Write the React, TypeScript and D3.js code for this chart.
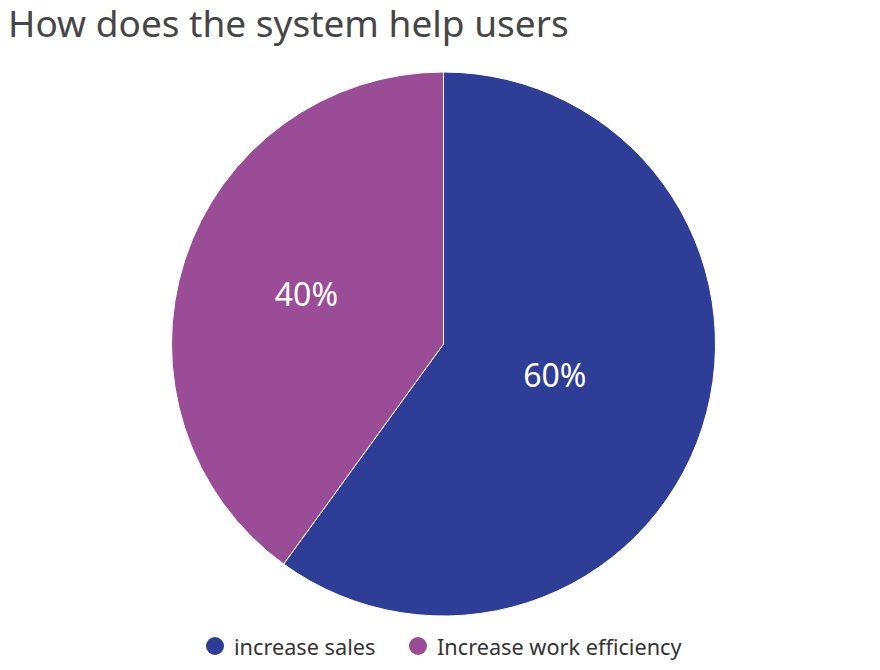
import React, { useRef, useEffect } from 'react';
import * as d3 from 'd3';

const categories = ['increase sales', 'Increase work efficiency'];
const shares = [60, 40];
const colors = ['#2e3d96', '#9a4c96'];
const title = 'How does the system help users';

const W = 880;
const H = 670;

const App = () => {
  const svgRef = useRef<SVGSVGElement>(null);

  useEffect(() => {
    const svg = d3.select(svgRef.current);
    svg.selectAll('*').remove();

    const cx = 443.5;
    const cy = 344;
    const r = 272;

    svg
      .append('text')
      .attr('x', 8)
      .attr('y', 37)
      .attr('font-family', '"Noto Sans", sans-serif')
      .attr('font-size', 37)
      .attr('fill', '#464646')
      .text(title);

    const data = categories.map((name, i) => ({ name, value: shares[i], color: colors[i] }));
    const total = d3.sum(shares);

    const pie = d3
      .pie<any>()
      .sort(null)
      .value(d => d.value);
    const arcs = pie(data);

    const arc = d3.arc<any>().innerRadius(0).outerRadius(r);

    const g = svg.append('g').attr('transform', `translate(${cx},${cy})`);

    g.selectAll('path.slice')
      .data(arcs)
      .join('path')
      .attr('class', 'slice')
      .attr('d', arc)
      .attr('fill', d => d.data.color)
      .attr('stroke', '#fff')
      .attr('stroke-width', 1);

    // labels sit further out on the smaller slice
    g.selectAll('text.lbl')
      .data(arcs)
      .join('text')
      .attr('class', 'lbl')
      .each(function (d) {
        const frac = d.data.value / total;
        const lr = r * (0.73 - 0.5 * frac);
        const a = (d.startAngle + d.endAngle) / 2;
        d3.select(this)
          .attr('x', Math.sin(a) * lr)
          .attr('y', -Math.cos(a) * lr - 6);
      })
      .attr('text-anchor', 'middle')
      .attr('dominant-baseline', 'central')
      .attr('font-family', '"Noto Sans", sans-serif')
      .attr('font-size', 32)
      .attr('fill', '#fff')
      .text(d => `${d.data.value}%`);

    // legend
    const legend = svg.append('g').attr('transform', `translate(0,646)`);
    const itemX = [215, 418];
    data.forEach((d, i) => {
      const item = legend.append('g').attr('transform', `translate(${itemX[i]},0)`);
      item.append('circle').attr('r', 9).attr('fill', d.color);
      item
        .append('text')
        .attr('x', 19)
        .attr('y', 0)
        .attr('dominant-baseline', 'central')
        .attr('font-family', '"Noto Sans", sans-serif')
        .attr('font-size', 21.7)
        .attr('fill', '#333')
        .text(d.name);
    });
  }, []);

  return (
    <svg
      ref={svgRef}
      width={W}
      height={H}
      style={{ position: 'absolute', left: 0, top: 0, background: '#fff' }}
    />
  );
};

export default App;
